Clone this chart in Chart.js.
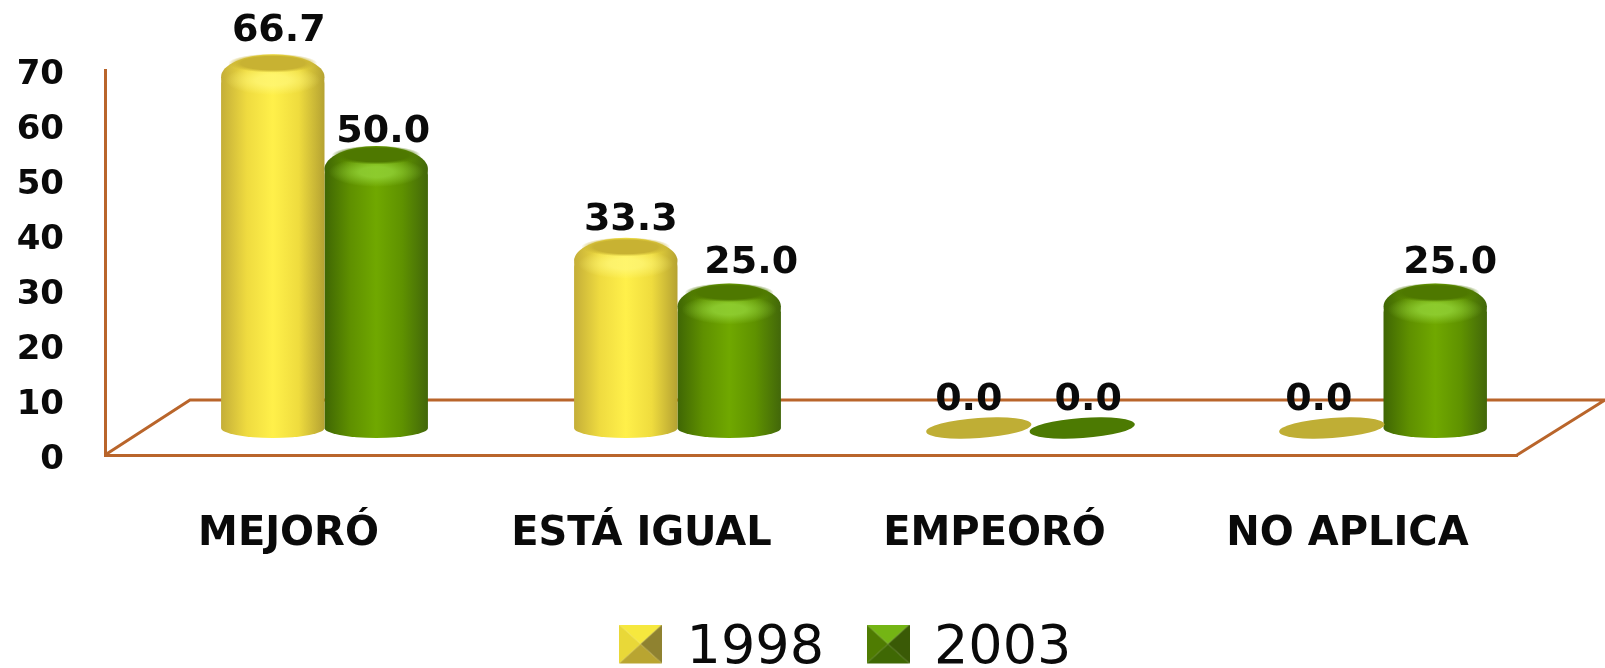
<!DOCTYPE html>
<html>
<head>
<meta charset="utf-8">
<title>1998 - 2003</title>
<script src="https://cdn.jsdelivr.net/npm/chart.js@4"></script>
<style>
  html, body { margin: 0; padding: 0; background: #ffffff; }
  canvas { display: block; }
</style>
</head>
<body>
<canvas id="myChart" width="1605" height="668"></canvas>
<script>
const categories = ["MEJORÓ", "ESTÁ IGUAL", "EMPEORÓ", "NO APLICA"];
const years = ["1998", "2003"];
const values1998 = [66.7, 33.3, 0, 0];
const values2003 = [50, 25, 0, 25];

const ink = "#0a0a0a";
const brown = "#b9652b";
const BAR_SHARE = 0.586;
// the bars sit at the back of the 3D floor, not on the front edge
const DEPTH_X = 43;
const DEPTH_Y = -27;

const looks = [
  {
    stops: ["#c4ae38", "#efdb40", "#fff04a", "#efdc3e", "#b5a232"],
    lid: "200,178,50",
    flat: "#bfae35",
    shine: "255,247,120",
    bevel: ["#f6e83e", "#e9d838", "#8f8230", "#b9a531"],
  },
  {
    stops: ["#3f6604", "#5f9000", "#70a800", "#5f9200", "#42670a"],
    lid: "78,120,0",
    flat: "#4c7a02",
    shine: "150,215,60",
    bevel: ["#74b514", "#4f7c02", "#3a5a06", "#3f6804"],
  },
];

// hand placed labels in the original: [x, y] nudge per bar
const labelNudge = [
  [[6, -5], [5, 0], [-10, -3], [-13, -3]],
  [[7, 4], [22, -3], [6, -3], [15, -3]],
];

function bodyFill(ctx) {
  const chart = ctx.chart;
  const look = looks[ctx.datasetIndex];
  const x = chart.scales.x;
  if (!chart.chartArea || ctx.dataIndex === undefined) return look.stops[2];
  const mid = x.getPixelForTick(ctx.dataIndex);
  const w = (x.width / categories.length) * BAR_SHARE / 2;
  if (!isFinite(mid) || !isFinite(w)) return look.stops[2];
  const from = ctx.datasetIndex === 0 ? mid - w : mid;
  const g = chart.ctx.createLinearGradient(from, 0, from + w, 0);
  look.stops.forEach((c, i) => g.addColorStop(i / 4, c));
  return g;
}

function softEllipse(ctx, cx, cy, rx, ry, rgb, alpha, solidTo) {
  ctx.save();
  ctx.translate(cx, cy);
  ctx.scale(1, ry / rx);
  const g = ctx.createRadialGradient(0, 0, 0, 0, 0, rx);
  g.addColorStop(0, "rgba(" + rgb + "," + alpha + ")");
  g.addColorStop(solidTo, "rgba(" + rgb + "," + alpha + ")");
  g.addColorStop(1, "rgba(" + rgb + ",0)");
  ctx.fillStyle = g;
  ctx.beginPath();
  ctx.arc(0, 0, rx, 0, Math.PI * 2);
  ctx.fill();
  ctx.restore();
}

function makeSwatch(look) {
  const c = document.createElement("canvas");
  c.width = 43;
  c.height = 49; // bottom 10px empty, lifts the square next to the text
  const s = c.getContext("2d");
  const cx = 21.5, cy = 19.5;
  const tri = [
    [[0, 0], [43, 0]],
    [[0, 39], [0, 0]],
    [[43, 0], [43, 39]],
    [[43, 39], [0, 39]],
  ];
  tri.forEach((t, i) => {
    s.fillStyle = look.bevel[i];
    s.beginPath();
    s.moveTo(t[0][0], t[0][1]);
    s.lineTo(t[1][0], t[1][1]);
    s.lineTo(cx, cy);
    s.closePath();
    s.fill();
  });
  return c;
}
const swatches = looks.map(makeSwatch);

const floorPlugin = {
  id: "floor",
  afterLayout(chart) {
    // legend is not centred on the page in the original
    const lg = chart.legend;
    const h = lg.bottom - lg.top;
    lg.left += 88;
    lg.right += 88;
    lg.top = 653 - 45 - 31;
    lg.bottom = lg.top + h;
  },
  beforeDatasetsDraw(chart) {
    const { ctx, chartArea: a } = chart;
    ctx.save();
    ctx.strokeStyle = brown;
    ctx.lineWidth = 3;
    ctx.beginPath();
    ctx.moveTo(a.left, a.bottom);
    ctx.lineTo(a.left + 85, a.bottom - 55);
    ctx.lineTo(a.right + 88, a.bottom - 55);
    ctx.lineTo(a.right, a.bottom);
    ctx.stroke();
    ctx.restore();

    ctx.save();
    ctx.translate(DEPTH_X, DEPTH_Y);
  },
  afterDatasetsDraw(chart) {
    const { ctx } = chart;
    chart.data.datasets.forEach((ds, d) => {
      const look = looks[d];
      chart.getDatasetMeta(d).data.forEach((bar, i) => {
        const rx = bar.width / 2;
        if (ds.data[i] === 0) {
          ctx.fillStyle = look.flat;
          ctx.beginPath();
          ctx.ellipse(bar.x, bar.base, rx + 1, 10, -0.07, 0, Math.PI * 2);
          ctx.fill();
          return;
        }
        const fill = bodyFill({ chart, datasetIndex: d, dataIndex: i });
        const topEdge = bar.y - 7;
        // bottom of the cylinder
        ctx.fillStyle = fill;
        ctx.beginPath();
        ctx.ellipse(bar.x, bar.base, rx, 10, 0, 0, Math.PI);
        ctx.fill();
        // domed top hides the square corners of the bar
        ctx.beginPath();
        ctx.ellipse(bar.x, topEdge + 23, rx, 23, 0, 0, Math.PI * 2);
        ctx.fill();
        softEllipse(ctx, bar.x, topEdge + 26, rx * 0.92, 15, look.shine, 0.75, 0.35);
        softEllipse(ctx, bar.x, topEdge + 9, rx * 0.86, 9.5, look.lid, 1, 0.72);
      });
    });
    // value labels
    ctx.fillStyle = ink;
    ctx.font = "bold 38px 'DejaVu Sans'";
    ctx.textAlign = "center";
    ctx.textBaseline = "alphabetic";
    chart.data.datasets.forEach((ds, d) => {
      chart.getDatasetMeta(d).data.forEach((bar, i) => {
        const n = labelNudge[d][i];
        ctx.fillText(ds.data[i].toFixed(1), bar.x + n[0], bar.y - 15 + n[1]);
      });
    });
    ctx.restore();
  },
};

new Chart(document.getElementById("myChart"), {
  type: "bar",
  plugins: [floorPlugin],
  data: {
    labels: categories,
    datasets: [
      { label: years[0], data: values1998 },
      { label: years[1], data: values2003 },
    ],
  },
  options: {
    responsive: false,
    animation: false,
    categoryPercentage: BAR_SHARE,
    barPercentage: 1,
    backgroundColor: bodyFill,
    borderWidth: 0,
    borderRadius: { topLeft: 22, topRight: 22, bottomLeft: 0, bottomRight: 0 },
    layout: { padding: { top: 70, right: 88, left: 0, bottom: 0 } },
    plugins: {
      tooltip: { enabled: false },
      legend: {
        position: "bottom",
        labels: {
          usePointStyle: true,
          boxWidth: 38,
          padding: 45,
          color: ink,
          font: { family: "'DejaVu Sans'", size: 54 },
          generateLabels(chart) {
            const items = Chart.defaults.plugins.legend.labels.generateLabels(chart);
            items.forEach((it, i) => { it.pointStyle = swatches[i]; });
            return items;
          },
        },
      },
    },
    scales: {
      x: {
        grid: { display: false, drawTicks: false },
        border: { display: true, color: brown, width: 3 },
        afterFit(scale) {
          scale.height = 668 - 455 - scale.chart.legend.height;
        },
        ticks: {
          color: ink,
          padding: 56,
          labelOffset: 7,
          maxRotation: 0,
          font: { family: "'DejaVu Sans'", size: 40, weight: "bold" },
        },
      },
      y: {
        min: 0,
        max: 70,
        grid: { display: false, drawTicks: false },
        border: { display: true, color: brown, width: 3 },
        afterFit(scale) {
          scale.width = 105;
        },
        ticks: {
          stepSize: 10,
          color: ink,
          padding: 41,
          labelOffset: 5,
          font: { family: "'DejaVu Sans'", size: 34, weight: "bold" },
        },
      },
    },
  },
});
</script>
</body>
</html>
